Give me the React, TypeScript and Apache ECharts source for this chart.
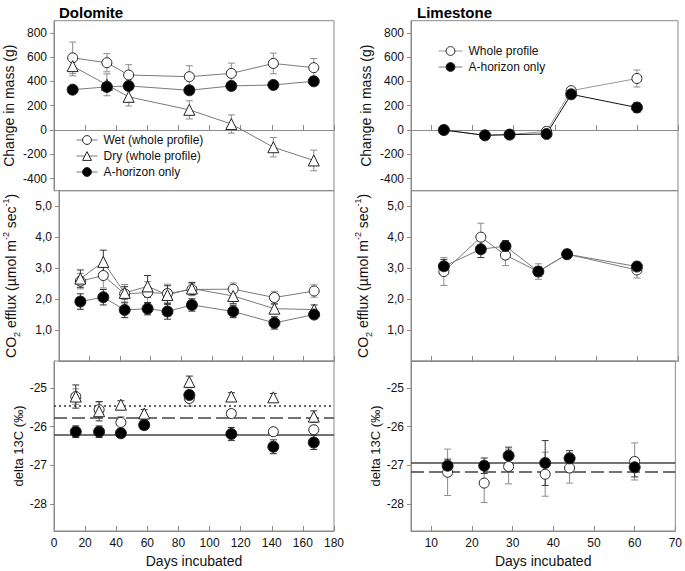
import React, { useEffect, useRef } from "react";
import * as echarts from "echarts";

const FONT = '"Liberation Sans", Arial, Helvetica, sans-serif';

// ---------- Dolomite: change in mass ----------
const dolMassDays = [12, 34, 48, 87, 114, 141, 167];
const dolWetMass = [594, 554, 453, 439, 466, 548, 513];
const dolWetMassErr = [130, 75, 85, 90, 85, 85, 75];
const dolDryMass = [526, 372, 273, 166, 49, -142, -251];
const dolDryMassErr = [80, 90, 75, 75, 75, 80, 85];
const dolAMass = [332, 355, 363, 327, 363, 371, 401];
const dolAMassErr = [25, 30, 25, 25, 20, 25, 30];

// ---------- Dolomite: CO2 efflux ----------
const dolCO2Days = [14, 29, 43, 58, 71, 87, 114, 141, 167];
const dolWetCO2 = [2.58, 2.76, 2.17, 2.21, 2.18, 2.31, 2.32, 2.05, 2.26];
const dolWetCO2Err = [0.25, 0.4, 0.3, 0.35, 0.3, 0.2, 0.2, 0.2, 0.2];
const dolDryCO2 = [2.66, 3.2, 2.2, 2.41, 2.13, 2.34, 2.1, 1.69, 1.66];
const dolDryCO2Err = [0.28, 0.38, 0.2, 0.35, 0.3, 0.2, 0.25, 0.15, 0.15];
const dolACO2 = [1.92, 2.06, 1.65, 1.69, 1.6, 1.81, 1.6, 1.23, 1.5];
const dolACO2Err = [0.25, 0.25, 0.25, 0.2, 0.25, 0.2, 0.2, 0.2, 0.1];

// ---------- Dolomite: delta 13C ----------
const dolD13Days = [14, 29, 43, 58, 87, 114, 141, 167];
const dolWetD13 = [-25.22, -25.56, -25.89, -25.93, -25.27, -25.66, -26.13, -26.08];
const dolWetD13Err = [0.2, 0.2, 0.15, 0.1, 0.2, 0.1, 0.1, 0.1];
const dolDryD13 = [-25.22, -25.6, -25.43, -25.66, -24.84, -25.22, -25.24, -25.74];
const dolDryD13Err = [0.3, 0.25, 0.1, 0.1, 0.15, 0.1, 0.1, 0.15];
const dolAD13 = [-26.13, -26.13, -26.17, -25.96, -25.18, -26.19, -26.52, -26.41];
const dolAD13Err = [0.15, 0.15, 0.05, 0.05, 0.1, 0.17, 0.18, 0.18];
const dolRefDotted = -25.46;
const dolRefDashed = -25.78;
const dolRefSolid = -26.21;

// ---------- Limestone: change in mass ----------
const limMassDays = [13, 23, 29, 38, 44, 60];
const limWholeMass = [0, -44, -38, -11, 324, 424];
const limWholeMassErr = [10, 15, 15, 15, 25, 70];
const limAMass = [0, -44, -38, -33, 294, 185];
const limAMassErr = [10, 15, 15, 15, 20, 40];

// ---------- Limestone: CO2 efflux ----------
const limCO2Days = [13, 22, 28, 36, 43, 60];
const limWholeCO2 = [2.89, 4.0, 3.42, 2.89, 3.45, 2.94];
const limWholeCO2Err = [0.45, 0.45, 0.34, 0.25, 0.15, 0.26];
const limACO2 = [3.06, 3.61, 3.71, 2.89, 3.45, 3.05];
const limACO2Err = [0.22, 0.27, 0.18, 0.15, 0.12, 0.1];

// ---------- Limestone: delta 13C ----------
const limD13Days = [14, 23, 29, 38, 44, 60];
const limWholeD13 = [-27.18, -27.46, -27.03, -27.23, -27.07, -26.9];
const limWholeD13Err = [0.6, 0.5, 0.45, 0.57, 0.39, 0.48];
const limAD13 = [-27.01, -27.01, -26.75, -26.94, -26.82, -27.05];
const limAD13Err = [0.17, 0.2, 0.22, 0.58, 0.2, 0.25];
const limRefSolid = -26.94;
const limRefDashed = -27.16;

// ---------- axis ticks ----------
const massTicks = [-400, -200, 0, 200, 400, 600, 800];
const co2Ticks = [1, 2, 3, 4, 5];
const d13Ticks = [-28, -27, -26, -25];
const limDayTicks = [10, 20, 30, 40, 50, 60, 70];

const AXIS_COLOR = "#8a8a8a";
const TEXT_COLOR = "#111";

function pairs(days: number[], vals: number[]) {
  return days.map((d, i) => [d, vals[i]]);
}

function errSeries(idx: number, days: number[], vals: number[], errs: number[], color: string) {
  return {
    type: "custom",
    name: "err" + idx + "_" + color + vals[0],
    xAxisIndex: idx,
    yAxisIndex: idx,
    silent: true,
    z: 2,
    data: days.map((d, i) => [d, vals[i] - errs[i], vals[i] + errs[i]]),
    encode: { x: 0, y: [1, 2] },
    renderItem: (params: any, api: any) => {
      const x = api.value(0);
      const lo = api.coord([x, api.value(1)]);
      const hi = api.coord([x, api.value(2)]);
      const w = 3.5;
      const st = { stroke: color, lineWidth: 1 };
      return {
        type: "group",
        children: [
          { type: "line", shape: { x1: lo[0], y1: lo[1], x2: hi[0], y2: hi[1] }, style: st },
          { type: "line", shape: { x1: lo[0] - w, y1: lo[1], x2: lo[0] + w, y2: lo[1] }, style: st },
          { type: "line", shape: { x1: hi[0] - w, y1: hi[1], x2: hi[0] + w, y2: hi[1] }, style: st },
        ],
      };
    },
  };
}

type Kind = "open" | "tri" | "filled";

function markSeries(
  name: string,
  idx: number,
  days: number[],
  vals: number[],
  kind: Kind,
  lineColor: string | null
) {
  const symbol = kind === "tri" ? "triangle" : "circle";
  const size = kind === "filled" ? 11 : kind === "tri" ? 11 : 10;
  const fill = kind === "filled" ? "#000" : "#fff";
  return {
    type: lineColor ? "line" : "scatter",
    name,
    xAxisIndex: idx,
    yAxisIndex: idx,
    data: pairs(days, vals),
    symbol,
    symbolSize: size,
    showSymbol: true,
    z: 5,
    itemStyle: { color: fill, borderColor: "#222", borderWidth: 1, opacity: 1 },
    lineStyle: lineColor ? { color: lineColor, width: 1 } : undefined,
    emphasis: { disabled: true },
  };
}

const WET = "Wet (whole profile)";
const DRY = "Dry (whole profile)";
const AH = "A-horizon only";
const WHOLE = "Whole profile";

export default function App() {
  const ref = useRef<HTMLDivElement>(null);

  useEffect(() => {
    if (!ref.current) return;
    const chart = echarts.init(ref.current, undefined, { renderer: "svg" });

    const leftX = 54;
    const leftW = 280;
    const rightX = 411;
    const rightW = 267;
    const tops = [20.7, 190.7, 361];
    const heights = [170, 170.3, 170];

    const grids: any[] = [];
    for (let c = 0; c < 2; c++) {
      for (let r = 0; r < 3; r++) {
        grids.push({
          left: c === 0 ? leftX : rightX,
          width: c === 0 ? leftW : rightW,
          top: tops[r],
          height: heights[r],
          show: true,
          borderColor: AXIS_COLOR,
          borderWidth: 1,
          backgroundColor: "transparent",
        });
      }
    }

    const xAxes: any[] = [];
    const yAxes: any[] = [];
    for (let c = 0; c < 2; c++) {
      for (let r = 0; r < 3; r++) {
        const gi = c * 3 + r;
        const bottom = r === 2;
        const xa: any = {
          gridIndex: gi,
          type: "value",
          axisLine: { show: true, lineStyle: { color: AXIS_COLOR } },
          axisTick: { show: true, inside: true, length: 5, lineStyle: { color: AXIS_COLOR } },
          axisLabel: {
            show: bottom,
            fontSize: 12,
            color: TEXT_COLOR,
            fontFamily: FONT,
            margin: 6,
          },
          splitLine: { show: false },
        };
        if (c === 0) {
          xa.min = 0;
          xa.max = 180;
          xa.interval = 20;
        } else {
          xa.min = 5;
          xa.max = 70;
          xa.axisTick.customValues = limDayTicks;
          xa.axisLabel.customValues = limDayTicks;
        }
        if (bottom) {
          xa.name = "Days incubated";
          xa.nameLocation = "middle";
          xa.nameGap = 23;
          xa.nameTextStyle = { fontSize: 14, color: TEXT_COLOR, fontFamily: FONT };
        }
        xAxes.push(xa);

        const ya: any = {
          gridIndex: gi,
          type: "value",
          axisLine: { show: true, lineStyle: { color: AXIS_COLOR } },
          splitLine: { show: false },
          nameLocation: "middle",
          nameTextStyle: { fontSize: 14, color: TEXT_COLOR, fontFamily: FONT },
        };
        let ticks: number[] = [];
        if (r === 0) {
          ya.min = -500;
          ya.max = 900;
          ticks = massTicks;
          ya.name = "Change in mass (g)";
          ya.nameGap = 38;
        } else if (r === 1) {
          ya.min = 0;
          ya.max = 5.5;
          ticks = co2Ticks;
          ya.name =
            "{n|CO}{sub|2}{n| efflux (µmol m}{sup|-2}{n| sec}{sup|-1}{n|)}";
          ya.nameGap = 38;
          ya.nameTextStyle = {
            fontSize: 14,
            color: TEXT_COLOR,
            fontFamily: FONT,
            rich: {
              n: { fontSize: 14, fontFamily: FONT, color: TEXT_COLOR, lineHeight: 20, verticalAlign: "middle" },
              sub: { fontSize: 9, fontFamily: FONT, color: TEXT_COLOR, lineHeight: 20, verticalAlign: "bottom" },
              sup: { fontSize: 9, fontFamily: FONT, color: TEXT_COLOR, lineHeight: 20, verticalAlign: "top" },
            },
          };
        } else {
          ya.min = -28.7;
          ya.max = -24.3;
          ticks = d13Ticks;
          ya.name = "delta 13C (‰)";
          ya.nameGap = 29;
          ya.nameTextStyle = { fontSize: 13, color: TEXT_COLOR, fontFamily: FONT };
        }
        ya.axisTick = {
          show: true,
          inside: false,
          length: 4,
          customValues: ticks,
          lineStyle: { color: AXIS_COLOR },
        };
        ya.axisLabel = {
          show: true,
          customValues: ticks,
          fontSize: 12,
          color: TEXT_COLOR,
          fontFamily: FONT,
          margin: 7,
          formatter:
            r === 1
              ? (v: number) => v.toFixed(1).replace(".", ",")
              : (v: number) => String(Math.round(v)),
        };
        yAxes.push(ya);
      }
    }

    const GRAY = "#7a7a7a";
    const ERR_OPEN = "#8c8c8c";
    const ERR_FILL = "#333";

    const series: any[] = [
      // Dolomite mass (grid 0)
      errSeries(0, dolMassDays, dolWetMass, dolWetMassErr, ERR_OPEN),
      errSeries(0, dolMassDays, dolDryMass, dolDryMassErr, ERR_OPEN),
      errSeries(0, dolMassDays, dolAMass, dolAMassErr, ERR_FILL),
      markSeries(WET, 0, dolMassDays, dolWetMass, "open", GRAY),
      markSeries(DRY, 0, dolMassDays, dolDryMass, "tri", GRAY),
      markSeries(AH, 0, dolMassDays, dolAMass, "filled", GRAY),
      // Dolomite CO2 (grid 1)
      errSeries(1, dolCO2Days, dolWetCO2, dolWetCO2Err, ERR_OPEN),
      errSeries(1, dolCO2Days, dolDryCO2, dolDryCO2Err, ERR_FILL),
      errSeries(1, dolCO2Days, dolACO2, dolACO2Err, ERR_FILL),
      markSeries(WET, 1, dolCO2Days, dolWetCO2, "open", GRAY),
      markSeries(DRY, 1, dolCO2Days, dolDryCO2, "tri", GRAY),
      markSeries(AH, 1, dolCO2Days, dolACO2, "filled", GRAY),
      // Dolomite d13C (grid 2)
      errSeries(2, dolD13Days, dolWetD13, dolWetD13Err, ERR_OPEN),
      errSeries(2, dolD13Days, dolDryD13, dolDryD13Err, ERR_FILL),
      errSeries(2, dolD13Days, dolAD13, dolAD13Err, ERR_FILL),
      {
        ...markSeries(WET, 2, dolD13Days, dolWetD13, "open", null),
        markLine: {
          silent: true,
          symbol: "none",
          label: { show: false },
          animation: false,
          data: [
            { yAxis: dolRefDotted, lineStyle: { type: [2, 3], color: "#333", width: 1.5 } },
            { yAxis: dolRefDashed, lineStyle: { type: [13, 5], color: "#444", width: 1.5 } },
            { yAxis: dolRefSolid, lineStyle: { type: "solid", color: "#444", width: 1.5 } },
          ],
        },
      },
      markSeries(DRY, 2, dolD13Days, dolDryD13, "tri", null),
      markSeries(AH, 2, dolD13Days, dolAD13, "filled", null),
      // Limestone mass (grid 3)
      errSeries(3, limMassDays, limWholeMass, limWholeMassErr, ERR_OPEN),
      errSeries(3, limMassDays, limAMass, limAMassErr, ERR_FILL),
      markSeries(WHOLE, 3, limMassDays, limWholeMass, "open", "#999"),
      markSeries(AH, 3, limMassDays, limAMass, "filled", "#111"),
      // Limestone CO2 (grid 4)
      errSeries(4, limCO2Days, limWholeCO2, limWholeCO2Err, ERR_OPEN),
      errSeries(4, limCO2Days, limACO2, limACO2Err, ERR_FILL),
      markSeries(WHOLE, 4, limCO2Days, limWholeCO2, "open", GRAY),
      markSeries(AH, 4, limCO2Days, limACO2, "filled", GRAY),
      // Limestone d13C (grid 5)
      errSeries(5, limD13Days, limWholeD13, limWholeD13Err, ERR_OPEN),
      errSeries(5, limD13Days, limAD13, limAD13Err, ERR_FILL),
      {
        ...markSeries(WHOLE, 5, limD13Days, limWholeD13, "open", null),
        markLine: {
          silent: true,
          symbol: "none",
          label: { show: false },
          animation: false,
          data: [
            { yAxis: limRefSolid, lineStyle: { type: "solid", color: "#444", width: 1.5 } },
            { yAxis: limRefDashed, lineStyle: { type: [13, 5], color: "#444", width: 1.5 } },
          ],
        },
      },
      markSeries(AH, 5, limD13Days, limAD13, "filled", null),
    ];

    const legendBase = {
      orient: "vertical",
      itemHeight: 11,
      itemGap: 4,
      selectedMode: false,
      itemStyle: { borderWidth: 1, borderColor: "#222" },
      lineStyle: { width: 1 },
      textStyle: { fontSize: 12, color: TEXT_COLOR, fontFamily: FONT, padding: [0, 0, 0, 1] },
    };

    chart.setOption({
      animation: false,
      backgroundColor: "#fff",
      textStyle: { fontFamily: FONT },
      title: [
        {
          text: "Dolomite",
          left: 54,
          top: 0,
          textStyle: { fontSize: 15, fontWeight: "bold", color: "#000", fontFamily: FONT },
        },
        {
          text: "Limestone",
          left: 412,
          top: 0,
          textStyle: { fontSize: 15, fontWeight: "bold", color: "#000", fontFamily: FONT },
        },
      ],
      legend: [
        {
          ...legendBase,
          left: 71,
          top: 129,
          itemWidth: 21,
          data: [WET, DRY, AH],
        },
        {
          ...legendBase,
          left: 433,
          top: 40,
          itemWidth: 24,
          data: [WHOLE, AH],
        },
      ],
      grid: grids,
      xAxis: xAxes,
      yAxis: yAxes,
      series,
    });

    return () => {
      chart.dispose();
    };
  }, []);

  return (
    <div
      ref={ref}
      style={{ position: "fixed", left: 0, top: 0, width: 685, height: 571, background: "#fff" }}
    />
  );
}
